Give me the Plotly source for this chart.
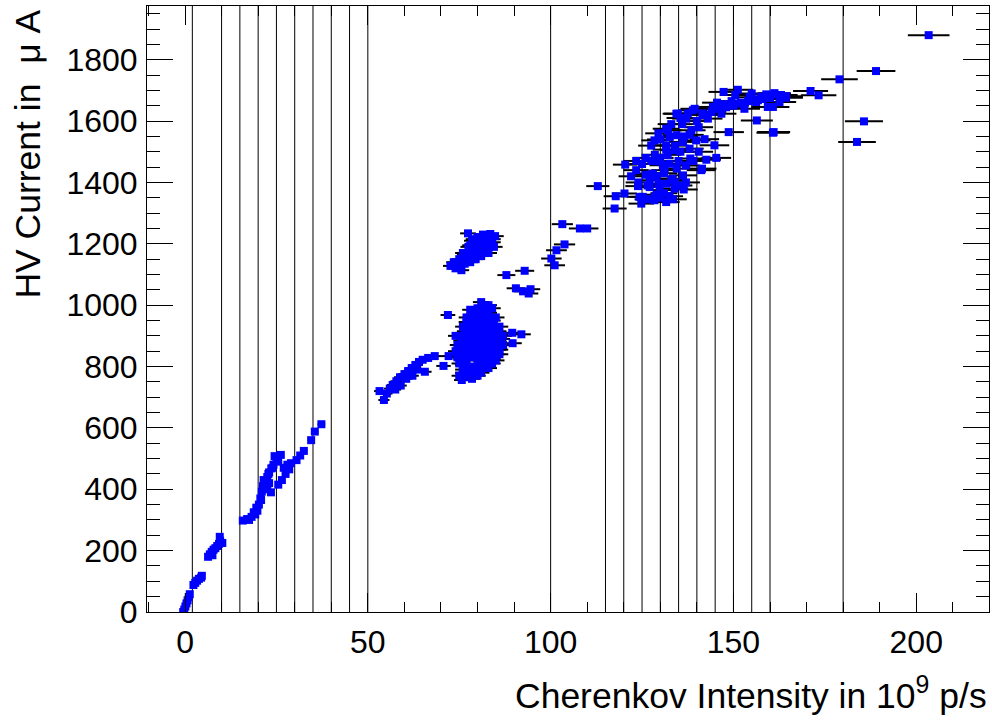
import plotly.graph_objects as go

# ---------------- data ----------------
# cluster near zero and the low-intensity strand (x < 40)
low_x = [-0.5, -0.2, 0.1, 0.4, 0.7, 1.0, 1.3,
         2.3, 2.8, 3.3, 3.8, 4.4, 4.6,
         6.3, 6.8, 7.3, 7.8, 8.3, 8.8, 9.3, 9.6, 9.5, 10.2, 7.5,
         15.8, 17.0, 18.2, 19.2, 19.8, 20.2, 20.6, 21.0, 21.3, 22.0, 22.5, 23.0, 23.6,
         24.2, 25.0, 24.5, 26.2, 22.5, 23.5, 25.5, 26.5, 27.5, 28.5, 29.0, 30.5, 31.5,
         32.5, 34.5, 35.5, 37.3, 20.8,
         21.5, 22.8, 24.0, 25.5, 27.0, 28.0, 23.0, 19.5, 18.8, 17.5]
low_y = [0, 8, 18, 28, 38, 48, 58,
         88, 95, 102, 108, 112, 118,
         180, 188, 196, 203, 208, 215, 222, 232, 245, 225, 185,
         298, 303, 310, 318, 330, 350, 370, 392, 410, 425, 440, 455, 468,
         480, 500, 508, 512, 400, 390, 415, 430, 450, 465, 485, 495, 510,
         525, 560, 588, 612, 365,
         430, 450, 470, 490, 470, 480, 420, 340, 325, 300]

# strand from 53 to 73
mid_x = [53.2, 54.4, 55.2, 56.8, 57.8, 58.8, 60.0, 59.0, 61.0, 62.0, 63.0, 64.0, 65.0,
         66.5, 65.6, 62.2, 68.3, 70.7, 72.1, 57.5, 56.0, 60.5, 63.5]
mid_y = [720, 691, 712, 740, 752, 765, 775, 738, 785, 795, 805, 815, 822,
         828, 783, 770, 834, 802, 834, 725, 728, 760, 790]

# dense blob around 80 (760-1020 uA)
blob_x = [75, 77, 79, 76, 78, 80, 82, 84, 75, 77, 79, 81, 83, 85, 76, 78, 80, 82, 84, 86,
          75, 77, 79, 81, 83, 85, 76, 78, 80, 82, 84, 86, 76, 78, 80, 82, 84, 77, 79, 81,
          83, 78, 80, 82, 85, 87, 74, 74, 86, 87, 81, 83, 84, 71.9, 89.5, 92.0, 89.6, 75.7,
          76, 78, 80, 82, 84, 75.5, 77.5, 79.5, 81.5, 83.5, 85.5, 75.5, 77.5, 79.5, 81.5,
          83.5, 85.5, 75.5, 77.5, 79.5, 81.5, 83.5, 85.5, 76.5, 78.5, 80.5, 82.5, 84.5,
          77, 79, 81, 83, 79.5, 81.5, 76, 77, 86.5, 86, 74.5, 74.5, 77, 78.5, 80, 81, 83,
          85, 86]
blob_y = [770, 765, 775, 790, 800, 790, 800, 810, 810, 820, 830, 820, 830, 840, 840, 850, 860, 850, 860, 870,
          870, 880, 890, 880, 890, 900, 900, 910, 920, 910, 920, 930, 930, 940, 950, 940, 950, 960, 970, 965,
          975, 985, 990, 985, 960, 900, 850, 900, 840, 870, 1010, 1000, 990, 968, 910, 905, 876, 756,
          780, 785, 805, 815, 825, 825, 835, 845, 835, 845, 855, 855, 865, 875, 865,
          875, 885, 885, 895, 905, 895, 905, 915, 915, 925, 935, 925, 935,
          945, 955, 950, 960, 980, 975, 805, 790, 890, 905, 870, 830, 770, 760, 770, 780, 795,
          820, 855]

# upper blob around 80 (1110-1235 uA) and the points up to 110
up_x = [72.6, 74.0, 75.6, 76.5, 78.0, 79.5, 81.0, 83.0, 84.5, 75.0, 76.5, 78.0, 79.5, 81.0,
        82.5, 84.0, 77.4, 78.5, 80.0, 81.5, 83.0, 84.8, 79.0, 82.0,
        73.5, 75.0, 76.0, 77.0, 78.5, 80.0, 81.5, 83.0, 84.0, 77.5, 79.0, 80.5, 82.0, 83.5,
        76.0, 78.0, 80.5, 82.5,
        87.9, 92.9, 90.5, 92.5, 94.0, 94.5,
        100.2, 101.1, 101.6, 103.8, 103.2, 108.0, 110.0]
up_y = [1128, 1120, 1114, 1135, 1140, 1150, 1160, 1170, 1190, 1150, 1165, 1175, 1185, 1195,
        1205, 1215, 1234, 1210, 1222, 1230, 1225, 1225, 1200, 1180,
        1140, 1130, 1145, 1155, 1160, 1170, 1175, 1190, 1205, 1190, 1215, 1205, 1215, 1232,
        1170, 1195, 1185, 1195,
        1098, 1112, 1055, 1045, 1038, 1052,
        1152, 1130, 1179, 1198, 1264, 1250, 1250]

# high-intensity cloud (112-165)
high_x = [112.9, 117.8, 117.5, 120.2, 120.4, 123.4, 123.4, 123.9, 125.2, 124.8, 128.4, 127.1,
          128.9, 128.4, 131.6, 132.1, 134.4, 131.6, 128.0, 130.7, 132.5, 133.0, 127.1, 129.8,
          131.6, 132.5, 134.4, 138.5, 139.8, 136.2, 131.6, 133.9, 138.0, 142.1, 144.8, 145.3,
          142.6, 138.2, 141.2, 136.2, 133.4, 131.2, 131.6, 133.9, 136.4,
          139.4, 144.4, 146.7, 134.8, 137.1, 143.0, 138.9,
          147.3, 151.2, 154.4, 156.7, 159.0, 161.2, 164.4, 153.0, 151.7, 156.2, 159.4, 162.6,
          148.7, 156.4, 161.0, 149.5, 147.5, 141.5, 136.0, 135.0, 126.0, 129.5, 134.5, 130.0,
          140.0, 126.0, 125.0, 122.0, 135.5, 137.0, 130.0, 132.5, 124.3, 128.4, 141.4,
          126.5, 129.0, 131.0, 133.5, 127.5, 130.0, 132.0, 134.0, 136.5, 138.0, 140.5, 142.0,
          144.0, 146.0, 148.0, 150.0, 152.0, 154.0, 158.0, 160.0, 163.0, 145.5, 150.5, 155.0,
          157.5, 128.5, 124.0, 126.5, 129.0, 131.0, 134.0, 135.0, 137.0, 139.0, 140.5, 127.5,
          129.5, 133.0, 135.5, 137.5]
high_y = [1388, 1355, 1315, 1364, 1458, 1470, 1440, 1388, 1353, 1331, 1353, 1407,
          1469, 1537, 1507, 1570, 1624, 1336, 1429, 1456, 1461, 1407, 1385, 1375,
          1575, 1548, 1554, 1570, 1537, 1532, 1521, 1505, 1510, 1541, 1521, 1480,
          1474, 1478, 1440, 1423, 1412, 1440, 1396, 1380, 1377,
          1640, 1646, 1624, 1624, 1608, 1608, 1635,
          1695, 1702, 1678, 1668, 1687, 1691, 1681, 1640, 1657, 1662, 1646, 1662,
          1564, 1602, 1564, 1665, 1655, 1625, 1590, 1470, 1480, 1395, 1445, 1540,
          1600, 1425, 1460, 1420, 1500, 1455, 1350, 1355, 1353, 1342, 1445,
          1345, 1360, 1365, 1345, 1470, 1480, 1490, 1520, 1550, 1555, 1580, 1620,
          1630, 1640, 1645, 1650, 1660, 1665, 1672, 1675, 1685, 1660, 1685, 1690,
          1680, 1490, 1400, 1390, 1420, 1430, 1400, 1390, 1400, 1470, 1500, 1520,
          1560, 1590, 1610, 1625]

# isolated points at the highest intensities
top_x = [171.1, 173.3, 179.0, 189.0, 185.7, 183.8, 203.4, 161.2, 164.4, 160.8, 160.8]
top_y = [1698, 1684, 1736, 1763, 1599, 1532, 1880, 1687, 1676, 1646, 1562]

# relative uncertainty of the Cherenkov intensity (horizontal error bars)
REL_XERR = 0.028

# vertical reference lines (x positions)
vlines_x = [2, 10, 15, 20, 25, 30, 35, 40, 45, 50,
            100, 115, 120, 125, 130, 135, 140, 145, 150, 155, 160, 180]

x_all = low_x + mid_x + blob_x + up_x + high_x + top_x
y_all = low_y + mid_y + blob_y + up_y + high_y + top_y
xerr = [abs(v) * REL_XERR for v in x_all]

FONT = "Liberation Sans, Arial, Helvetica, sans-serif"

fig = go.Figure()
fig.add_trace(go.Scatter(
    x=x_all, y=y_all, mode="markers",
    marker=dict(symbol="square", size=8, color="#0000ff", line=dict(width=0)),
    error_x=dict(type="data", array=xerr, visible=True, color="black",
                 thickness=2, width=0),
    showlegend=False,
))

for xv in vlines_x:
    fig.add_shape(type="line", xref="x", yref="paper", x0=xv, x1=xv, y0=0, y1=1,
                  line=dict(color="black", width=1), layer="below")

fig.update_layout(
    width=992, height=724,
    margin=dict(l=147, r=3, t=6, b=112),
    paper_bgcolor="white", plot_bgcolor="white",
    font=dict(family=FONT, color="black"),
)
fig.update_xaxes(
    range=[-10.4, 219.9], showgrid=False, zeroline=False,
    showline=True, linecolor="black", linewidth=1, mirror="ticks",
    ticks="inside", tickcolor="black", ticklen=19, tickwidth=1,
    tick0=0, dtick=50, tickfont=dict(size=32, family=FONT),
    minor=dict(ticks="inside", dtick=10, ticklen=10, tickcolor="black", showgrid=False),
    ticklabelstandoff=2,
)
fig.update_yaxes(
    range=[0, 1975], showgrid=False, zeroline=False,
    showline=True, linecolor="black", linewidth=1, mirror="ticks",
    ticks="inside", tickcolor="black", ticklen=26, tickwidth=1,
    tick0=0, dtick=200, tickfont=dict(size=32, family=FONT),
    minor=dict(ticks="inside", dtick=50, ticklen=13, tickcolor="black", showgrid=False),
    ticklabelstandoff=2,
)

fig.add_annotation(
    text="Cherenkov Intensity in 10<sup>9</sup> p/s",
    xref="paper", yref="paper", x=1.0, y=-0.135, xanchor="right", yanchor="middle",
    showarrow=False, font=dict(size=35.5, family=FONT, color="black"),
)
fig.add_annotation(
    text="HV Current in  \u03bc A",
    xref="paper", yref="paper", x=-0.141, y=0.997, xanchor="center", yanchor="top",
    textangle=-90, showarrow=False, font=dict(size=35.5, family=FONT, color="black"),
)

fig.write_html("out.html")
